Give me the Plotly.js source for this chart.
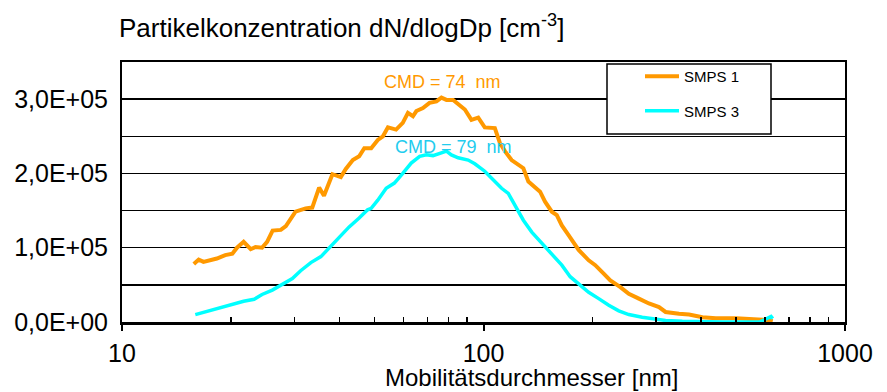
<!DOCTYPE html>
<html>
<head>
<meta charset="utf-8">
<script src="https://cdn.plot.ly/plotly-3.0.1.min.js"></script>
<style>html,body{margin:0;padding:0;background:#fff;}#chart{width:887px;height:392px;}</style>
</head>
<body>
<div id="chart"></div>
<script>
// Data (diameter in nm, concentration in cm^-3)
const smps1Diam = [15.8,16.3,16.8,17.4,18.3,19.3,20.2,20.8,21.7,22.7,23.4,24.4,25.2,26.1,27.5,28.4,30.2,32.2,33.6,35.1,36.2,38.2,39.5,40.3,41.6,43.5,45.3,46.8,48.9,51.0,52.7,54.4,57.3,59.8,61.8,63.8,65.2,68.0,70.9,74.1,76.5,79.0,82.4,85.1,88.8,92.6,96.7,100.8,107.5,111.0,114.6,119.6,124.9,128.9,133.1,138.9,143.4,148.0,154.5,159.5,164.7,171.9,183.3,195.4,203.8,215.0,224.3,239.1,252.3,269.0,286.8,305.8,318.9,347.4,370.4,403.3,439.1,499.0,555.1,591.8,617.7,631.0];
const smps1Conc = [78000,84000,81000,83000,85500,90000,92000,100000,108000,98000,101000,100000,108000,123000,124000,129000,148500,153000,154000,181000,170000,199000,196000,195000,206000,218000,223000,234000,234000,245000,250000,262000,259000,268000,281500,277000,284000,288000,295000,297000,302000,299000,299000,293000,286000,272000,275000,262000,261000,241000,230000,218000,212000,207000,189000,181000,175500,162000,148500,144000,130000,117000,97000,83000,76500,65000,56000,47000,38000,31500,25000,20000,13500,11000,10000,6500,5000,5000,4500,3000,2000,1000];
const smps3Diam = [15.95,16.8,17.75,18.9,20.2,21.7,23.2,24.4,26.05,27.8,29.6,31.2,33.3,35.5,37.4,39.9,42.5,45.3,47.8,48.9,51.0,53.8,56.7,59.8,63.1,66.6,69.5,72.5,75.6,79.0,81.5,85.1,90.7,94.6,100.8,106.4,112.2,117.1,122.2,128.9,136.0,145.0,154.5,164.7,173.7,183.3,195.4,208.3,222.1,236.7,252.3,274.8,292.9,318.9,354.8,403.3,458.3,521.0,579.7,598.3,624.2,631.0];
const smps3Conc = [10000,13000,16000,19000,23000,28000,30500,37000,43000,51000,58500,69000,80000,88000,100000,115000,128000,140000,151000,153000,164000,180000,187000,200000,214000,223000,225000,224000,227000,230000,225000,221000,218000,213000,203000,191000,180000,173000,158000,137000,121000,106000,90000,76500,61000,52000,40000,31500,22500,15000,10000,6500,4500,2000,1000,0,0,0,0,3000,7500,4500];

const seriesNames = ['SMPS 1', 'SMPS 3'];
const seriesColors = ['#FF9900', '#00FFFF'];
const yTickVals = [0, 50000, 100000, 150000, 200000, 250000, 300000, 350000];
const yTickText = ['0,0E+00', '', '1,0E+05', '', '2,0E+05', '', '3,0E+05', ''];
const xTickVals = [10, 100, 1000];
const xTickText = ['10', '100', '1000'];
const xMinorVals = [20,30,40,50,60,70,80,90,200,300,400,500,600,700,800,900];
const cmdLabels = ['CMD = 74&nbsp;&nbsp;nm', 'CMD = 79&nbsp;&nbsp;nm'];
const cmdColors = ['#FF9900', '#22CCEE'];

const FONT = 'Liberation Sans, Arial, sans-serif';
const PL = 122, PW = 723, PB = 321.6, PH = 259.6;
const px = v => (v - PL) / PW;
const py = v => (PB - v) / PH;

const traces = [
  {x: smps1Diam, y: smps1Conc, name: seriesNames[0], type: 'scatter', mode: 'lines',
   line: {color: seriesColors[0], width: 4}, legendgroup: 'a'},
  {x: smps3Diam, y: smps3Conc, name: seriesNames[1], type: 'scatter', mode: 'lines',
   line: {color: seriesColors[1], width: 3.5}, legendgroup: 'b'}
];

const layout = {
  width: 887, height: 392,
  margin: {l: 122, r: 42, t: 62, b: 70, pad: 0},
  paper_bgcolor: '#fff', plot_bgcolor: '#fff',
  font: {family: FONT, color: '#000'},
  title: {text: 'Partikelkonzentration dN/dlogDp [cm<sup>-3</sup>]',
          font: {family: FONT, size: 26, color: '#000'},
          x: 119/887, xanchor: 'left', xref: 'container',
          y: 1 - 28/392, yanchor: 'middle', yref: 'container'},
  xaxis: {type: 'log', range: [1, 3], tickmode: 'array', tickvals: xTickVals, ticktext: xTickText,
          ticks: 'outside', ticklen: 6, tickwidth: 2, tickcolor: '#000',
          minor: {tickmode: 'array', tickvals: xMinorVals, ticks: 'inside', ticklen: 5, tickwidth: 1.5, tickcolor: '#000', showgrid: false},
          showgrid: false, zeroline: false, showline: true, linecolor: '#000', linewidth: 2.5, mirror: true,
          tickfont: {family: FONT, size: 25, color: '#000'}, ticklabelstandoff: 1},
  yaxis: {range: [0, 350000], tickmode: 'array', tickvals: yTickVals, ticktext: yTickText,
          ticks: '', showgrid: true, gridcolor: '#000', gridwidth: 1.5, zeroline: false,
          showline: true, linecolor: '#000', linewidth: 2, mirror: true,
          tickfont: {family: FONT, size: 25, color: '#000'}, ticklabelstandoff: 7},
  showlegend: true,
  legend: {x: px(640), xanchor: 'left', y: py(60), yanchor: 'top',
           bgcolor: 'rgba(0,0,0,0)', borderwidth: 0,
           font: {family: FONT, size: 15, color: '#000'},
           traceorder: 'grouped', tracegroupgap: 12, itemwidth: 34},
  shapes: [
    {type: 'rect', xref: 'paper', yref: 'paper', x0: px(607), x1: px(771), y0: py(134), y1: py(64),
     fillcolor: '#fff', line: {color: '#000', width: 1.5}, layer: 'above'}
  ],
  annotations: [
    {text: cmdLabels[0], xref: 'paper', yref: 'paper', x: px(442), y: py(82), yanchor: 'middle', xanchor: 'center',
     showarrow: false, font: {family: FONT, size: 18, color: cmdColors[0]}},
    {text: cmdLabels[1], xref: 'paper', yref: 'paper', x: px(453), y: py(147), yanchor: 'middle', xanchor: 'center',
     showarrow: false, font: {family: FONT, size: 18, color: cmdColors[1]}},
    {text: 'Mobilitätsdurchmesser [nm]', xref: 'paper', yref: 'paper', x: px(531), y: py(377), yanchor: 'middle', xanchor: 'center',
     showarrow: false, font: {family: FONT, size: 24, color: '#000'}}
  ]
};

Plotly.newPlot('chart', traces, layout, {displayModeBar: false, staticPlot: true});
</script>
</body>
</html>
